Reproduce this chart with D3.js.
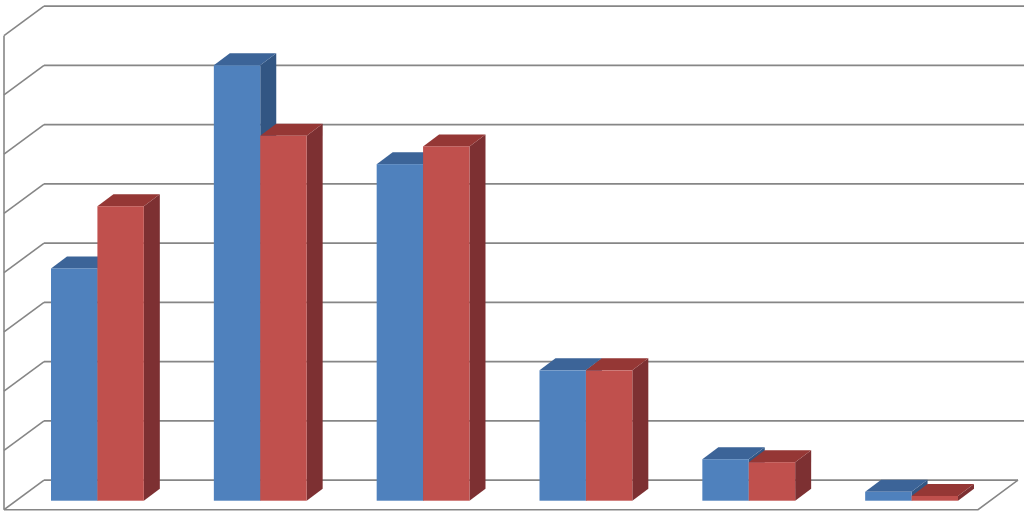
<!DOCTYPE html>
<html><head><meta charset="utf-8">
<script src="https://cdn.jsdelivr.net/npm/d3@7"></script>
<style>html,body{margin:0;padding:0;background:#fff}svg{display:block}</style>
</head><body><svg id="c" width="1024" height="514"></svg>
<script>
const categories = ["A","B","C","D","E","F"];
const seriesNames = ["Series 1","Series 2"];
const series1 = [3.92,7.35,5.68,2.2,0.7,0.15];
const series2 = [4.97,6.16,5.98,2.2,0.65,0.08];
const gridTicks = [0,1,2,3,4,5,6,7,8];
const faceColors = ["#4f81bd","#c0504d"];
const topColors = ["#3c6498","#953735"];
const sideColors = ["#325683","#7d3032"];

const W = 1024, H = 514;
const depthX = 16, depthY = 12;         // bar depth
const wallX = 40, wallY = 29.6;         // floor depth
const svg = d3.select("#c");
const x = d3.scaleBand().domain(categories).range([16,993]).paddingInner(0.43).paddingOuter(0.215);
const sub = d3.scaleBand().domain(seriesNames).range([0,x.bandwidth()]);
const y = d3.scaleLinear().domain([0,8]).range([500.7,26.7]);
const backY = v => y(v) - 20.6;
const frontY = v => backY(v) + wallY;
const gridColor = "#868686";

const grid = svg.append("g").attr("fill","none").attr("stroke",gridColor).attr("stroke-width",1.6);
grid.selectAll(".g").data(gridTicks).join("line").attr("class","g")
  .attr("x1",44).attr("x2",v=>v===0?1018:W).attr("y1",backY).attr("y2",backY);
grid.selectAll(".w").data(gridTicks).join("line").attr("class","w")
  .attr("x1",4).attr("x2",44).attr("y1",frontY).attr("y2",backY);
grid.append("line").attr("x1",4).attr("x2",4).attr("y1",frontY(8)).attr("y2",frontY(0));
grid.append("path").attr("d",d3.line()([[4,frontY(0)],[1018-wallX,frontY(0)],[1018,backY(0)]]));

const rows = categories.flatMap((c,i)=>[
  {c,s:0,v:series1[i]},{c,s:1,v:series2[i]}
]);
const bars = svg.append("g").selectAll("g").data(rows).join("g");
const geom = d => {
  const x0 = x(d.c)+sub(seriesNames[d.s]), x1 = x0+sub.bandwidth(), t = y(d.v), b = y(0);
  return {x0,x1,t,b};
};
bars.append("path").attr("fill",d=>sideColors[d.s]).attr("d",d=>{const g=geom(d);
  return d3.line()([[g.x1,g.t],[g.x1+depthX,g.t-depthY],[g.x1+depthX,g.b-depthY],[g.x1,g.b]])+"Z";});
bars.append("path").attr("fill",d=>topColors[d.s]).attr("d",d=>{const g=geom(d);
  return d3.line()([[g.x0,g.t],[g.x0+depthX,g.t-depthY],[g.x1+depthX,g.t-depthY],[g.x1,g.t]])+"Z";});
bars.append("rect").attr("fill",d=>faceColors[d.s])
  .attr("x",d=>geom(d).x0).attr("y",d=>geom(d).t)
  .attr("width",sub.bandwidth()).attr("height",d=>geom(d).b-geom(d).t);
</script></body></html>
